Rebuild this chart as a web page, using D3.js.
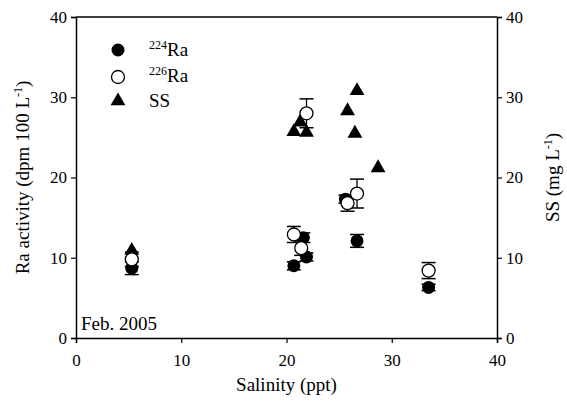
<!DOCTYPE html>
<html>
<head>
<meta charset="utf-8">
<script src="https://cdn.jsdelivr.net/npm/d3@7"></script>
<style>
    body { margin: 0; background: #fff; }
</style>
</head>
<body>
<div id="chart"></div>
<script>
// salinity (ppt), activity (dpm 100 L-1), error
let ra224Sal = [5.3, 20.7, 21.6, 21.9, 25.6, 26.7, 33.5];
let ra224Val = [8.7, 9.0, 12.5, 10.1, 17.3, 12.1, 6.3];
let ra224Err = [0.8, 0.5, 0.6, 0.5, 0.5, 0.8, 0.4];

let ra226Sal = [5.3, 20.7, 21.4, 21.9, 25.8, 26.7, 33.5];
let ra226Val = [9.8, 12.9, 11.2, 28.0, 16.8, 18.0, 8.4];
let ra226Err = [0.9, 1.0, 0.9, 1.8, 1.0, 1.8, 1.0];

// suspended solids (mg L-1)
let ssSal = [5.3, 20.7, 21.3, 21.9, 25.8, 26.5, 26.7, 28.7];
let ssVal = [10.9, 25.7, 26.9, 25.6, 28.3, 25.5, 30.8, 21.2];

let xTicks = [0, 10, 20, 30, 40];
let yTicks = [0, 10, 20, 30, 40];

let margin = {top: 17, right: 70, bottom: 63, left: 76};
let width = 567 - margin.left - margin.right;
let height = 401 - margin.top - margin.bottom;
let serif = "Liberation Serif";

let svg = d3.select("#chart").append("svg")
    .attr("width", 567)
    .attr("height", 401)
    .append("g")
    .attr("transform", "translate(" + margin.left + "," + margin.top + ")");

let x = d3.scaleLinear().domain([0, 40]).range([0, width]);
let yRa = d3.scaleLinear().domain([0, 40]).range([height, 0]);
let ySS = d3.scaleLinear().domain([0, 40]).range([height, 0]);

// axes
let xAxis = d3.axisBottom(x).tickValues(xTicks).tickSize(5).tickPadding(11);
let yAxis = d3.axisLeft(yRa).tickValues(yTicks).tickSize(5).tickPadding(4);
let y2Axis = d3.axisRight(ySS).tickValues(yTicks).tickSize(5).tickPadding(4);

svg.append("g").attr("class", "axis")
    .attr("transform", "translate(0," + height + ")")
    .call(xAxis);
svg.append("g").attr("class", "axis").call(yAxis);
svg.append("g").attr("class", "axis")
    .attr("transform", "translate(" + width + ",0)")
    .call(y2Axis);

// top frame line
svg.append("line")
    .attr("x1", 0).attr("x2", width)
    .attr("y1", 0).attr("y2", 0)
    .attr("stroke", "#000").attr("stroke-width", 1.5);

svg.selectAll(".axis path").attr("stroke-width", 1.5);
svg.selectAll(".axis line").attr("stroke-width", 1.2);
svg.selectAll(".axis text").style("font-size", "17px");

// axis titles
svg.append("text")
    .attr("text-anchor", "middle")
    .attr("x", width / 2)
    .attr("y", height + 53)
    .style("font-size", "19px")
    .text("Salinity (ppt)");

let yLab = svg.append("text")
    .attr("text-anchor", "middle")
    .attr("transform", "translate(-47," + (height / 2) + ") rotate(-90)")
    .style("font-size", "19px");
yLab.append("tspan").text("Ra activity (dpm 100 L");
yLab.append("tspan").style("font-size", "12px").attr("dy", -7).text("-1");
yLab.append("tspan").attr("dy", 7).text(")");

let y2Lab = svg.append("text")
    .attr("text-anchor", "middle")
    .attr("transform", "translate(" + (width + 62) + "," + (height / 2) + ") rotate(-90)")
    .style("font-size", "19px");
y2Lab.append("tspan").text("SS (mg L");
y2Lab.append("tspan").style("font-size", "12px").attr("dy", -7).text("-1");
y2Lab.append("tspan").attr("dy", 7).text(")");

svg.append("text")
    .attr("x", 5)
    .attr("y", height - 8)
    .style("font-size", "19px")
    .text("Feb. 2005");

let r = 6.5;
let cap = 7;
let tri = d3.symbol().type(d3.symbolTriangle).size(95);

function errorBars(sal, val, err) {
    let g = svg.append("g");
    sal.forEach(function (s, i) {
        let cx = x(s);
        let top = yRa(val[i] + err[i]);
        let bot = yRa(val[i] - err[i]);
        g.append("line").attr("x1", cx).attr("x2", cx).attr("y1", top).attr("y2", bot)
            .attr("stroke", "#000").attr("stroke-width", 1.3);
        [top, bot].forEach(function (yy) {
            g.append("line").attr("x1", cx - cap).attr("x2", cx + cap)
                .attr("y1", yy).attr("y2", yy)
                .attr("stroke", "#000").attr("stroke-width", 1.5);
        });
    });
}

// SS triangles
svg.append("g").selectAll("path")
    .data(ssSal)
    .enter().append("path")
    .attr("d", tri)
    .attr("transform", function (d, i) { return "translate(" + x(d) + "," + ySS(ssVal[i]) + ")"; })
    .attr("fill", "#000");

// 224Ra filled circles
errorBars(ra224Sal, ra224Val, ra224Err);
svg.append("g").selectAll("circle")
    .data(ra224Sal)
    .enter().append("circle")
    .attr("cx", function (d) { return x(d); })
    .attr("cy", function (d, i) { return yRa(ra224Val[i]); })
    .attr("r", r)
    .attr("fill", "#000");

// 226Ra open circles
errorBars(ra226Sal, ra226Val, ra226Err);
svg.append("g").selectAll("circle")
    .data(ra226Sal)
    .enter().append("circle")
    .attr("cx", function (d) { return x(d); })
    .attr("cy", function (d, i) { return yRa(ra226Val[i]); })
    .attr("r", r)
    .attr("fill", "#fff")
    .attr("stroke", "#000")
    .attr("stroke-width", 1.3);

// legend
let legend = svg.append("g").attr("transform", "translate(42,33)");
legend.append("circle").attr("cx", 0).attr("cy", 0).attr("r", r).attr("fill", "#000");
legend.append("circle").attr("cx", 0).attr("cy", 27).attr("r", r)
    .attr("fill", "#fff").attr("stroke", "#000").attr("stroke-width", 1.3);
legend.append("path").attr("d", tri).attr("transform", "translate(0,51)").attr("fill", "#000");

let legLabels = [["224", "Ra"], ["226", "Ra"], ["", "SS"]];
legLabels.forEach(function (l, i) {
    let t = legend.append("text")
        .attr("x", 31)
        .attr("y", [6, 32, 57][i])
        .style("font-size", "19px");
    if (l[0]) {
        t.append("tspan").style("font-size", "12px").attr("dy", -7).text(l[0]);
        t.append("tspan").attr("dy", 7).text(l[1]);
    } else {
        t.text(l[1]);
    }
});

// serif font on every label, set inline so the axis defaults don't win
d3.selectAll("svg text").style("font-family", serif).attr("fill", "#000");
d3.selectAll("svg .axis").attr("font-family", serif);
</script>
</body>
</html>
